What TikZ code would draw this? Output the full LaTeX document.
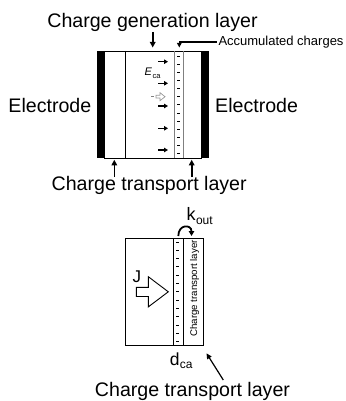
\documentclass[tikz,border=0pt]{standalone}
\usepackage{fontspec}
\setmainfont{Liberation Sans}
\usetikzlibrary{arrows.meta}
\tikzset{
  lbl/.style={font=\fontsize{19.6}{22}\selectfont, inner sep=0pt},
  smalllbl/.style={font=\fontsize{13}{15}\selectfont, inner sep=0pt},
  ptr/.style={line width=1.6pt, -{Triangle[length=5.5pt,width=5.5pt]}},
  fieldarrow/.style={line width=1.4pt, -{Triangle[length=4pt,width=4.5pt]}},
  frame/.style={draw, line width=0.9pt},
  graybar/.style={draw=gray, line width=1pt},
  minus/.style={line width=1pt},
  electrode/.style={fill=black},
}
\begin{document}
\begin{tikzpicture}[x=1pt,y=-1pt]
\useasboundingbox (0,0) rectangle (345,401);

% ---------- top device ----------
\fill[electrode] (96.7,51) rectangle (104.3,158.3);
\fill[electrode] (201.7,51) rectangle (209,158.3);
\draw[frame] (104.3,51) rectangle (201.7,158.3);
\draw[frame] (125.3,51) -- (125.3,158.3);
\draw[graybar] (174,51) -- (174,158.3);
\draw[graybar] (183,51) -- (183,158.3);
\foreach \i in {0,...,12}
  \draw[minus] (177,56.7+8.05*\i) -- (180,56.7+8.05*\i);

% field arrows
\foreach \yy in {61.7,83.3,106,128.3,150}
  \draw[fieldarrow] (158.3,\yy) -- (168,\yy);
\node[font=\fontsize{11}{13}\selectfont\itshape, inner sep=0pt, anchor=base west] (E) at (144.5,76)
  {E\kern0.5pt\raisebox{-2.2pt}{\upshape\fontsize{7.5}{9}\selectfont ca}};
% gray hollow arrow
\draw[gray, line width=0.9pt] (151,96.7) -- (154,96.7);
\draw[gray!80, line width=0.7pt] (156,95.3) -- (160,95.3) -- (160,92.7) -- (165,96.7)
  -- (160,100.7) -- (160,98.1) -- (156,98.1) -- cycle;

% labels
\node[lbl, anchor=base] (cgl) at (152.5,27.5) {Charge generation layer};
\coordinate (cglT) at (152.7,47.5);
\draw[ptr] (cgl.south -| cglT) -- (cglT);

\node[smalllbl, anchor=base west] (acc) at (218.3,45.2) {Accumulated charges};
\coordinate (accT) at (179.3,47.5);
\draw[line width=1.4pt, -{Triangle[length=4.5pt,width=4.5pt]}] ([xshift=-1.5pt]acc.west) -| (accT);

\node[lbl, anchor=base west] (elL) at (8.3,112.7) {Electrode};
\node[lbl, anchor=base west] (elR) at (215,112.7) {Electrode};

\node[lbl, anchor=base] (ctl) at (149.2,190.5) {Charge transport layer};
\coordinate (ctlA) at (114.3,159.8);
\coordinate (ctlB) at (191.7,159.8);
\draw[ptr] ([yshift=-1pt]ctl.north -| ctlA) -- (ctlA);
\draw[ptr] ([yshift=-1pt]ctl.north -| ctlB) -- (ctlB);

% ---------- bottom device ----------
\draw[frame] (125,238.3) rectangle (173.3,345);
\draw[frame] (173.3,238.3) rectangle (203.5,345);
\draw[frame] (183.3,238.3) -- (183.3,345);
\foreach \i in {0,...,12}
  \draw[minus] (176.3,242+8.3*\i) -- (179.3,242+8.3*\i);
\node[font=\fontsize{9.7}{11}\selectfont, inner sep=0pt, rotate=90] (ctlrot) at (194.6,288.5)
  {Charge transport layer};

% k_out curved arrow
\coordinate (kA) at (178.3,236);
\coordinate (kB) at (191.5,236);
\draw[line width=1.8pt, -{Triangle[length=5pt,width=5.5pt]}]
  (kA) .. controls (178.3,224) and (191.5,224) .. (kB);
\node[font=\fontsize{18}{20}\selectfont, inner sep=0pt, anchor=base west] (kout) at (186.5,220.5)
  {k\kern0.3pt\raisebox{-3.5pt}{\fontsize{12}{14}\selectfont out}};

% J and hollow arrow
\node[font=\fontsize{17}{19}\selectfont, inner sep=0pt, anchor=base west] (J) at (132.5,282) {J};
\draw[line width=0.9pt] (136.3,287.3) -- (148.3,287.3) -- (148.3,276.7) -- (168.3,291.8)
  -- (148.3,306.9) -- (148.3,296.5) -- (136.3,296.5) -- cycle;

% d_ca
\node[font=\fontsize{17.5}{20}\selectfont, inner sep=0pt, anchor=base west] (dca) at (169.6,365)
  {d\kern0.3pt\raisebox{-3pt}{\fontsize{12}{14}\selectfont ca}};

% bottom label
\node[lbl, anchor=base] (ctl2) at (192.5,396.8) {Charge transport layer};
\coordinate (ctl2tail) at (223.3,380);
\coordinate (ctl2tip) at (206.5,353.3);
\draw[line width=1.2pt, -{Triangle[length=5.5pt,width=5pt]}] (ctl2tail) -- (ctl2tip);
\end{tikzpicture}
\end{document}
